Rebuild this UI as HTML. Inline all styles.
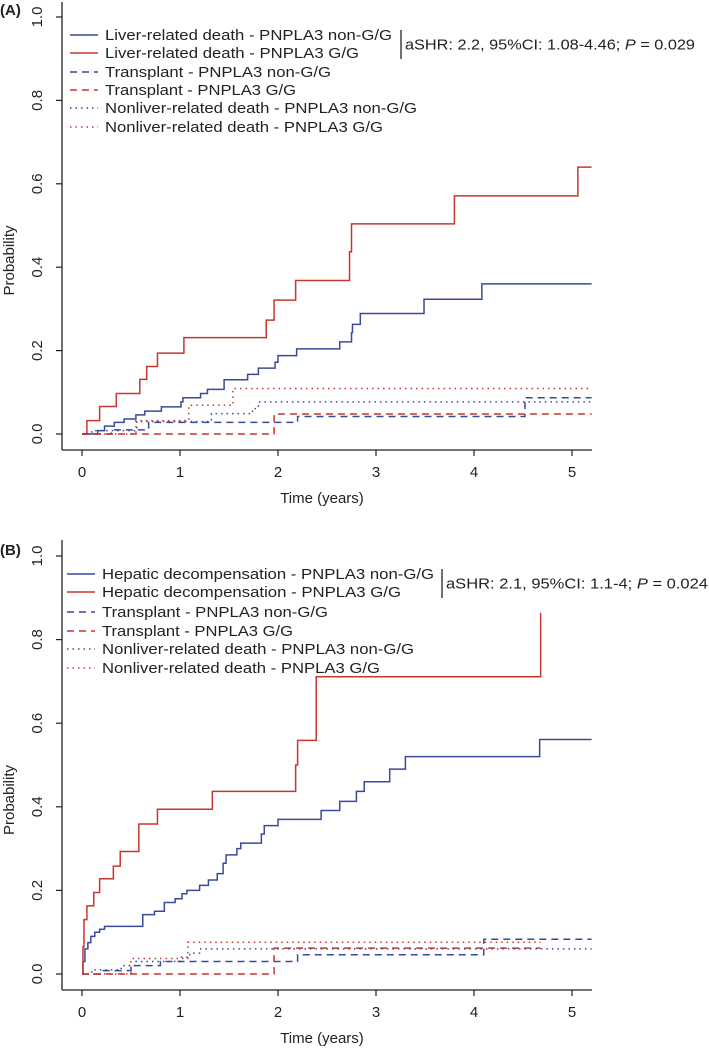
<!DOCTYPE html>
<html><head><meta charset="utf-8">
<style>
html,body{margin:0;padding:0;background:#fff;}
svg{display:block;font-family:"Liberation Sans",sans-serif;}
</style></head>
<body>
<svg id="fig" width="709" height="1053" viewBox="0 0 709 1053"></svg>
<script>
// ---- Panel A data ----
const A_liverNonGG_t = [0.16,0.23,0.33,0.43,0.55,0.64,0.81,1.01,1.03,1.21,1.28,1.45,1.69,1.80,1.97,2.00,2.19,2.63,2.75,2.76,2.84,3.49,4.08];
const A_liverNonGG_p = [0.008,0.019,0.028,0.036,0.046,0.055,0.065,0.077,0.087,0.097,0.107,0.130,0.143,0.158,0.172,0.188,0.204,0.221,0.243,0.263,0.289,0.323,0.360];
const A_liverGG_t = [0.05,0.18,0.35,0.59,0.66,0.77,1.04,1.88,1.96,2.18,2.73,2.75,3.80,5.06];
const A_liverGG_p = [0.032,0.066,0.097,0.131,0.162,0.194,0.231,0.273,0.321,0.368,0.437,0.504,0.571,0.640];
const A_txNonGG_t = [0.30,0.68,2.20,4.52];
const A_txNonGG_p = [0.010,0.028,0.042,0.087];
const A_txGG_t = [1.96];
const A_txGG_p = [0.048];
const A_nlNonGG_t = [0.10,0.56,1.32,1.74,1.80];
const A_nlNonGG_p = [0.008,0.030,0.049,0.061,0.077];
const A_nlGG_t = [0.55,1.09,1.54];
const A_nlGG_p = [0.032,0.069,0.109];
// ---- Panel B data ----
const B_decNonGG_t = [0.01,0.03,0.06,0.09,0.13,0.18,0.23,0.62,0.74,0.84,0.95,1.02,1.07,1.20,1.29,1.38,1.44,1.47,1.58,1.62,1.83,1.86,2.00,2.44,2.63,2.80,2.88,3.14,3.30,4.67];
const B_decNonGG_p = [0.030,0.060,0.075,0.090,0.100,0.107,0.114,0.142,0.150,0.171,0.180,0.192,0.200,0.212,0.225,0.240,0.265,0.285,0.300,0.313,0.335,0.355,0.370,0.391,0.413,0.437,0.460,0.490,0.520,0.561];
const B_decGG_t = [0.01,0.02,0.05,0.12,0.18,0.32,0.39,0.58,0.77,1.33,2.18,2.20,2.39,4.68];
const B_decGG_p = [0.065,0.130,0.163,0.195,0.228,0.258,0.293,0.359,0.394,0.437,0.500,0.559,0.711,0.864];
const B_txNonGG_t = [0.20,0.50,0.80,2.20,4.10];
const B_txNonGG_p = [0.008,0.020,0.030,0.046,0.083];
const B_txGG_t = [1.96];
const B_txGG_p = [0.062];
const B_nlNonGG_t = [0.10,0.40,0.55,1.00,1.10,1.20];
const B_nlNonGG_p = [0.010,0.020,0.030,0.040,0.050,0.060];
const B_nlGG_t = [0.50,1.08];
const B_nlGG_p = [0.037,0.076];
const xTicks = [0,1,2,3,4,5];
const yTicks = [0,0.2,0.4,0.6,0.8,1.0];
const yTickLabels = ["0.0","0.2","0.4","0.6","0.8","1.0"];
const A_legend = ["Liver-related death - PNPLA3 non-G/G","Liver-related death - PNPLA3 G/G","Transplant - PNPLA3 non-G/G","Transplant - PNPLA3 G/G","Nonliver-related death - PNPLA3 non-G/G","Nonliver-related death - PNPLA3 G/G"];
const B_legend = ["Hepatic decompensation - PNPLA3 non-G/G","Hepatic decompensation - PNPLA3 G/G","Transplant - PNPLA3 non-G/G","Transplant - PNPLA3 G/G","Nonliver-related death - PNPLA3 non-G/G","Nonliver-related death - PNPLA3 G/G"];

const NS="http://www.w3.org/2000/svg";
const svg=document.getElementById('fig');
const BLUE="#3a4a9a", RED="#c8372d";
function mk(tag,attrs,parent){const e=document.createElementNS(NS,tag);for(const k in attrs)e.setAttribute(k,attrs[k]);(parent||svg).appendChild(e);return e;}

function panel(cfg){
  const g=mk('g',{});
  
  
  const x=t=>82+t*98;
  const y=p=>cfg.y0-p*(cfg.y0-cfg.y1);
  // axes
  const ax=mk('line',{x1:62,x2:62,y1:cfg.top,y2:cfg.axisY,stroke:'#222','stroke-width':1.3},g);
  
  const bx=mk('line',{x1:62,x2:592,y1:cfg.axisY,y2:cfg.axisY,stroke:'#222','stroke-width':1.3},g);
  
  xTicks.forEach(v=>{
    const tk=mk('line',{x1:x(v),x2:x(v),y1:cfg.axisY,y2:cfg.axisY+6,stroke:'#222','stroke-width':1.2},g);
    
    const tl=mk('text',{x:x(v),y:cfg.axisY+27,'font-size':15,'text-anchor':'middle',fill:'#222'},g);
    tl.textContent=String(v);
    
  });
  yTicks.forEach((v,i)=>{
    const tk=mk('line',{x1:56,x2:62,y1:y(v),y2:y(v),stroke:'#222','stroke-width':1.2},g);
    
    const tl=mk('text',{x:0,y:0,'font-size':15,'text-anchor':'middle',fill:'#222',transform:`translate(42,${y(v)}) rotate(-90)`},g);
    tl.textContent=yTickLabels[i];
    
  });
  const xt=mk('text',{x:322,y:cfg.axisY+53,'font-size':15,'text-anchor':'middle',fill:'#222'},g);
  xt.textContent='Time (years)';
  
  const yt=mk('text',{x:0,y:0,'font-size':15,'text-anchor':'middle',fill:'#222',transform:`translate(14,${(cfg.y0+cfg.y1)/2+35}) rotate(-90)`},g);
  yt.textContent='Probability';
  
  const pl=mk('text',{x:0,y:cfg.labelY,'font-size':15,'font-weight':'bold',fill:'#222'},g);
  pl.textContent=cfg.label;
  
  // series
  cfg.series.forEach(s=>{
    let d=`M${x(0)},${y(0)}`;let prev=0;
    s.t.forEach((t,i)=>{d+=` H${x(t)} V${y(s.p[i])}`;prev=s.p[i];});
    d+=` H${x(s.end)}`;
    const p=mk('path',{d:d,fill:'none',stroke:s.c,'stroke-width':1.5,'stroke-dasharray':s.dash||'none'},g);
    
  });
  // legend
  const styles=[[BLUE,''],[RED,''],[BLUE,'7,5'],[RED,'7,5'],[BLUE,'1.5,4'],[RED,'1.5,4']];
  cfg.legend.forEach((txt,i)=>{
    const ly=cfg.legY[i];
    const le=mk('g',{},g);
    
    mk('line',{x1:cfg.legX,x2:cfg.legX+28,y1:ly,y2:ly,stroke:styles[i][0],'stroke-width':1.5,'stroke-dasharray':styles[i][1]||'none'},le);
    const t=mk('text',{x:cfg.legX+35,y:ly+5,'font-size':15,fill:'#222',textLength:cfg.legW[i],lengthAdjust:'spacingAndGlyphs'},le);
    t.textContent=txt;
  });
  const bar=mk('line',{x1:cfg.barX,x2:cfg.barX,y1:cfg.barY1,y2:cfg.barY2,stroke:'#222','stroke-width':1.3},g);
  
  const st=mk('text',{x:cfg.barX+4,y:(cfg.barY1+cfg.barY2)/2+5,'font-size':15,fill:'#222',textLength:cfg.statW,lengthAdjust:'spacingAndGlyphs'},g);
  st.innerHTML=cfg.stat;
  
}

panel({name:'panel-a',label:'(A)',labelY:15,top:2,axisY:450,y0:434,y1:17,
  legX:70,legY:[35,53,72,90,108,127],legW:[287,254,226,191,312,278],legend:A_legend,
  barX:401,barY1:30,barY2:59,statW:290,
  stat:'aSHR: 2.2, 95%CI: 1.08-4.46; <tspan font-style="italic">P</tspan> = 0.029',
  series:[
   {name:'line-liver-death-non-gg',t:A_liverNonGG_t,p:A_liverNonGG_p,c:BLUE,end:5.2},
   {name:'line-liver-death-gg',t:A_liverGG_t,p:A_liverGG_p,c:RED,end:5.2},
   {name:'line-transplant-non-gg',t:A_txNonGG_t,p:A_txNonGG_p,c:BLUE,dash:'7,5',end:5.2},
   {name:'line-transplant-gg',t:A_txGG_t,p:A_txGG_p,c:RED,dash:'7,5',end:5.2},
   {name:'line-nonliver-death-non-gg',t:A_nlNonGG_t,p:A_nlNonGG_p,c:BLUE,dash:'1.5,4',end:5.2},
   {name:'line-nonliver-death-gg',t:A_nlGG_t,p:A_nlGG_p,c:RED,dash:'1.5,4',end:5.2}
  ]});
panel({name:'panel-b',label:'(B)',labelY:555,top:540,axisY:990,y0:974,y1:556,
  legX:67,legY:[574,592,612,631,649,668],legW:[332,299,226,191,312,278],legend:B_legend,
  barX:442,barY1:569,barY2:598,statW:262,
  stat:'aSHR: 2.1, 95%CI: 1.1-4; <tspan font-style="italic">P</tspan> = 0.024',
  series:[
   {name:'line-decompensation-non-gg',t:B_decNonGG_t,p:B_decNonGG_p,c:BLUE,end:5.2},
   {name:'line-decompensation-gg',t:B_decGG_t,p:B_decGG_p,c:RED,end:4.68},
   {name:'line-transplant-non-gg',t:B_txNonGG_t,p:B_txNonGG_p,c:BLUE,dash:'7,5',end:5.2},
   {name:'line-transplant-gg',t:B_txGG_t,p:B_txGG_p,c:RED,dash:'7,5',end:4.68},
   {name:'line-nonliver-death-non-gg',t:B_nlNonGG_t,p:B_nlNonGG_p,c:BLUE,dash:'1.5,4',end:5.2},
   {name:'line-nonliver-death-gg',t:B_nlGG_t,p:B_nlGG_p,c:RED,dash:'1.5,4',end:4.68}
  ]});
</script>
</body></html>
